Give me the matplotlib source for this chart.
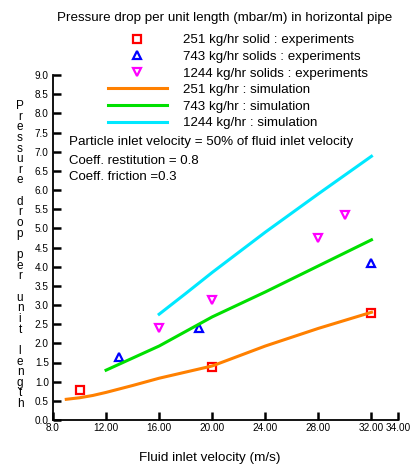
import matplotlib
matplotlib.use("Agg")
import matplotlib.pyplot as plt

plt.rcParams['font.family'] = ['Liberation Sans', 'DejaVu Sans']

# experiments
v_251_exp = [10, 20, 32]
dp_251_exp = [0.78, 1.39, 2.79]
v_743_exp = [13, 19, 32]
dp_743_exp = [1.65, 2.39, 4.10]
v_1244_exp = [16, 20, 28, 30]
dp_1244_exp = [2.39, 3.14, 4.76, 5.34]

# simulation
v_251_sim = [9, 10, 11, 12, 14, 16, 20, 24, 28, 32]
dp_251_sim = [0.54, 0.58, 0.64, 0.72, 0.90, 1.09, 1.41, 1.93, 2.39, 2.81]
v_743_sim = [12, 16, 20, 24, 28, 32]
dp_743_sim = [1.30, 1.93, 2.69, 3.34, 4.02, 4.70]
v_1244_sim = [16, 18, 20, 24, 28, 32]
dp_1244_sim = [2.76, 3.30, 3.85, 4.90, 5.90, 6.88]

xticks = [8, 12, 16, 20, 24, 28, 32, 34]
xticklabels = ['8.0', '12.00', '16.00', '20.00', '24.00', '28.00', '32.00', '34.00']
yticks = [i * 0.5 for i in range(19)]

fig = plt.figure(figsize=(4.14, 4.68), dpi=100)
ax = fig.add_axes([53 / 414, 1 - 420 / 468, 345 / 414, 345 / 468])

mk = dict(linestyle='none', markerfacecolor='none', markersize=6, markeredgewidth=1.6)
ax.plot(v_251_exp, dp_251_exp, marker='s', color='#ff0000', label='251 kg/hr solid : experiments', **mk)
ax.plot(v_743_exp, dp_743_exp, marker='^', color='#0000ff', label='743 kg/hr solids : experiments', **mk)
ax.plot(v_1244_exp, dp_1244_exp, marker='v', color='#ff00ff', label='1244 kg/hr solids : experiments', **mk)
ax.plot(v_251_sim, dp_251_sim, color='#ff8000', lw=2.2, label='251 kg/hr : simulation')
ax.plot(v_743_sim, dp_743_sim, color='#00e000', lw=2.2, label='743 kg/hr : simulation')
ax.plot(v_1244_sim, dp_1244_sim, color='#00e8ff', lw=2.2, label='1244 kg/hr : simulation')

ax.set_xlim(8, 34)
ax.set_ylim(0, 9)
ax.set_xticks(xticks)
ax.set_xticklabels(xticklabels)
ax.set_yticks(yticks)
ax.set_yticklabels(['%.1f' % t for t in yticks])
ax.spines['top'].set_visible(False)
ax.spines['right'].set_visible(False)
ax.spines['left'].set_linewidth(1.3)
ax.spines['bottom'].set_linewidth(1.3)
ax.tick_params(direction='in', length=6, width=1.8, labelsize=7.2, colors='black', pad=2)
ax.tick_params(axis='y', pad=3)

fig.legend(loc='upper left', bbox_to_anchor=(108 / 414, 1 - 34 / 468), frameon=False,
           fontsize=9.6, handlelength=4.4, handletextpad=1.2, labelspacing=0.32,
           borderpad=0, borderaxespad=0)

fig.text(225 / 414, 1 - 18 / 468, 'Pressure drop per unit length (mbar/m) in horizontal pipe',
         ha='center', va='center', fontsize=9.6)
fig.text(69 / 414, 1 - 142 / 468, 'Particle inlet velocity = 50% of fluid inlet velocity',
         ha='left', va='center', fontsize=9.6)
fig.text(69 / 414, 1 - 161 / 468, 'Coeff. restitution = 0.8', ha='left', va='center', fontsize=9.5)
fig.text(69 / 414, 1 - 177 / 468, 'Coeff. friction =0.3', ha='left', va='center', fontsize=9.5)

ylabel = 'Pressure drop per unit length'
fig.text(20 / 414, 1 - 255 / 468, '\n'.join(ylabel), ha='center', va='center',
         fontsize=8.5, linespacing=0.85)
fig.text(210 / 414, 1 - 458 / 468, 'Fluid inlet velocity (m/s)', ha='center', va='center', fontsize=9.7)

fig.savefig('out.png', dpi=100)
